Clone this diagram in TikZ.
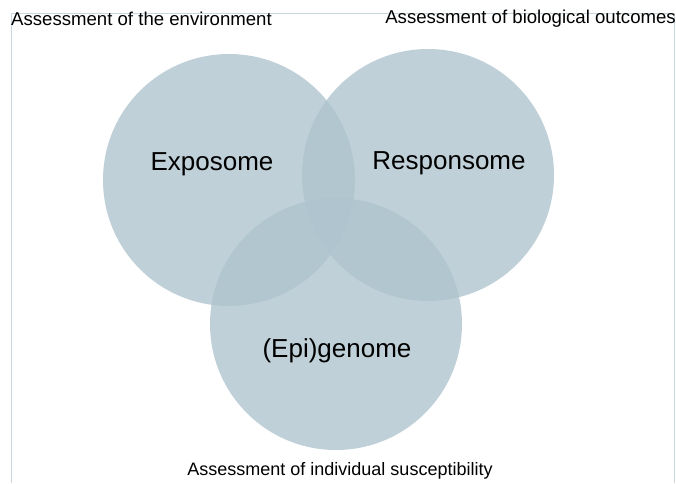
\documentclass[tikz,border=0pt]{standalone}
\usepackage{fontspec}
\setmainfont{Liberation Sans}
\definecolor{omefill}{RGB}{174,195,205}
\definecolor{frameline}{RGB}{200,214,222}
\tikzset{
  omecircle/.style={circle, fill=omefill, fill opacity=0.78, minimum size=252pt, inner sep=0pt},
  omelabel/.style={font=\fontsize{26}{30}\selectfont, inner sep=0pt},
  assesslabel/.style={font=\fontsize{18}{21}\selectfont, inner sep=0pt},
  toplabel/.style={font=\fontsize{18.6}{21}\selectfont, inner sep=0pt},
}
\begin{document}
\begin{tikzpicture}[x=1pt,y=-1pt]
        \useasboundingbox (0,0) rectangle (676,483);
        \draw[frameline, line width=0.8pt] (11,483) -- (11,13) -- (674,13) -- (674,483);

        \node[omecircle] (expo) at (229,180) {};
        \node[omecircle] (resp) at (428,175) {};
        \node[omecircle] (epi) at (336,324) {};

        \node[omelabel] (expolabel) at (212,164) {Exposome};
        \node[omelabel] (resplabel) at (449,163) {Responsome};
        \node[omelabel] (epilabel) at (337,351) {(Epi)genome};

        \node[toplabel, anchor=west] (env) at (11,19) {Assessment of the environment};
        \node[toplabel, anchor=east] (bio) at (676,19) {Assessment of biological outcomes};
        \node[assesslabel] (sus) at (340,471) {Assessment of individual susceptibility};
      \end{tikzpicture}
\end{document}
